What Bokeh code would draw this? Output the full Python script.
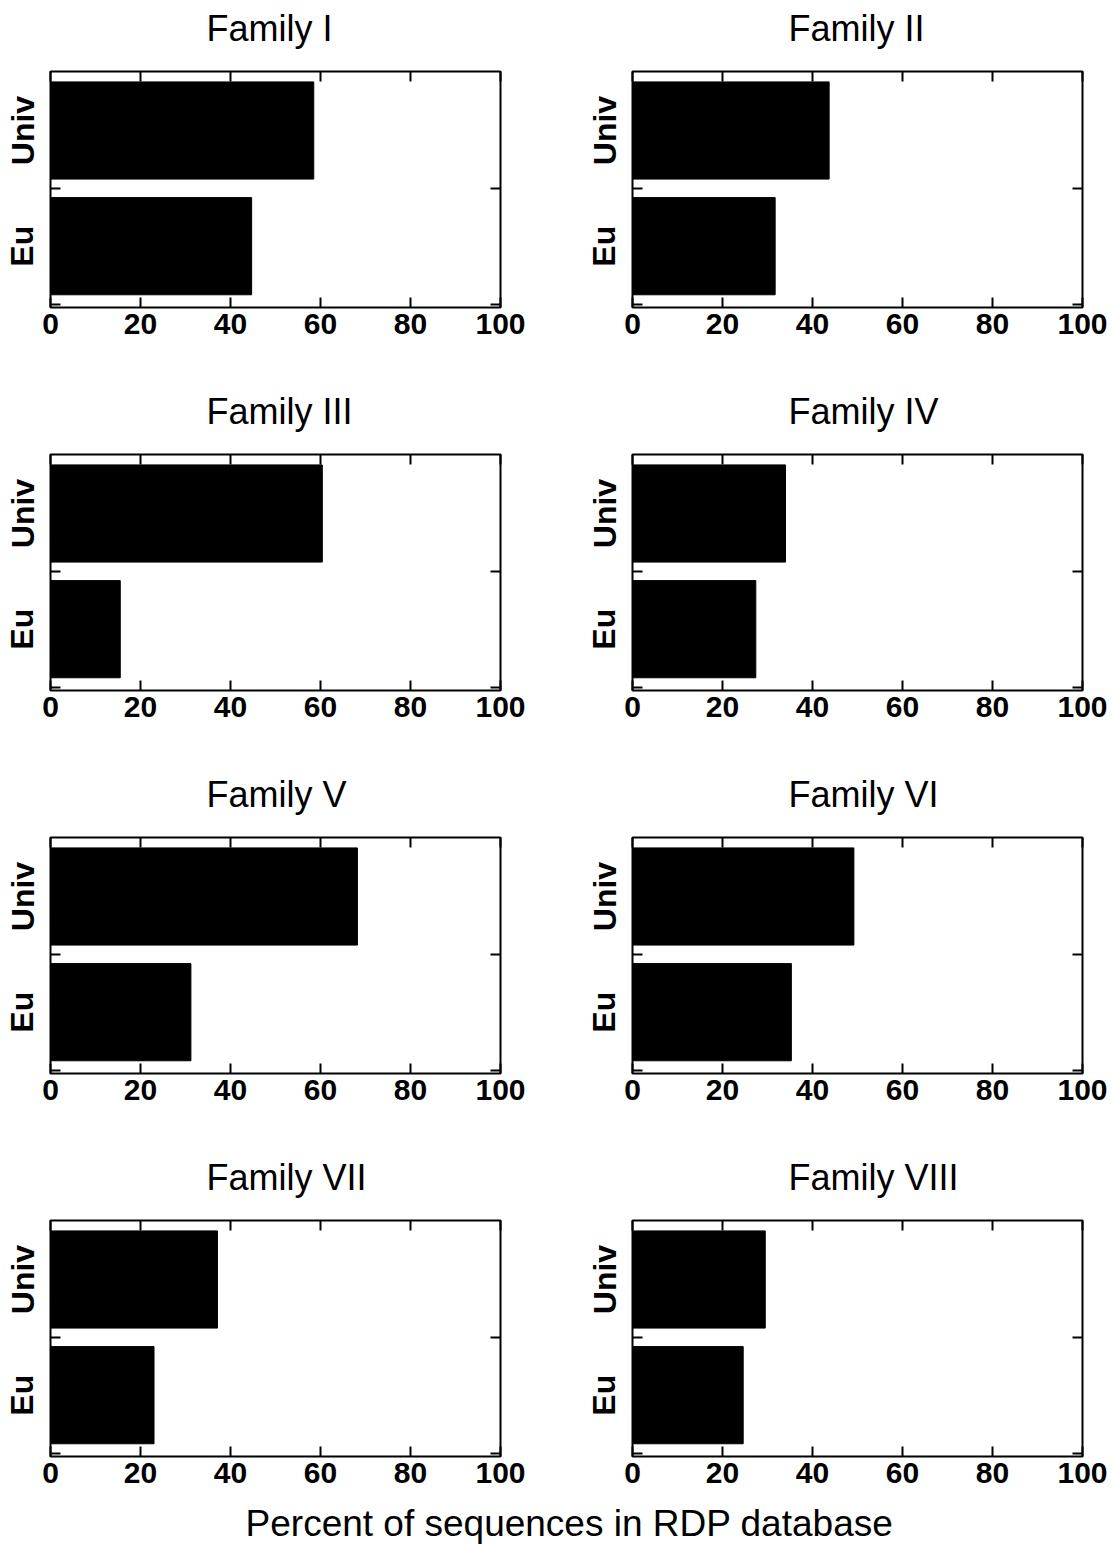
from bokeh.plotting import figure
from bokeh.models import ColumnDataSource, FixedTicker, LinearAxis, Range1d, Label
from bokeh.layouts import column, row
from bokeh.embed import file_html
from bokeh.resources import INLINE

# ---------------- data ----------------
families = ["Family I", "Family II", "Family III", "Family IV",
            "Family V", "Family VI", "Family VII", "Family VIII"]
univ = [58.5, 43.7, 60.4, 34.0, 68.2, 49.2, 37.1, 29.5]
eu = [44.7, 31.7, 15.5, 27.4, 31.2, 35.3, 23.0, 24.6]
categories = ["Eu", "Univ"]
x_ticks = [0, 20, 40, 60, 80, 100]
x_label = "Percent of sequences in RDP database"

FONT = "Liberation Sans"
FRAME_W, FRAME_H = 450, 236
ROW_H = 383
STRIP_H = 60               # title strip above each row of panels
TOP = 71 - STRIP_H         # border above each frame inside a panel figure
PAGE_W = 1112
COL_LEFT = [50, 632]       # frame left edge of each column (px)
TITLE_DX = 156             # title starts this many px right of the frame edge
TITLE_MID = 28             # title vertical middle, px below strip top


def make_panel(idx):
    left_col = idx % 2 == 0
    last_row = idx >= len(families) - 2
    centers = [i + 0.5 for i in range(len(categories))]
    bounds = [float(i) for i in range(len(categories))]
    values = [eu[idx], univ[idx]]
    src = ColumnDataSource(dict(y=centers, right=values, cat=categories))

    bottom = 40 if last_row else ROW_H - STRIP_H - TOP - FRAME_H
    lft = COL_LEFT[0] if left_col else COL_LEFT[1] - PAGE_W // 2
    p = figure(frame_width=FRAME_W, frame_height=FRAME_H,
               x_range=Range1d(0, 100), y_range=Range1d(-0.03, 2.01),
               output_backend="svg", toolbar_location=None,
               x_axis_location=None, y_axis_location=None,
               min_border_left=lft,
               min_border_right=PAGE_W // 2 - lft - FRAME_W,
               min_border_top=TOP, min_border_bottom=bottom,
               background_fill_color="white", border_fill_color="white")
    p.grid.visible = False
    p.outline_line_color = "black"
    p.outline_line_width = 2

    p.hbar(y="y", right="right", left=0, height=0.84, source=src,
           fill_color="black", line_color="black")

    # bottom axis
    xb = LinearAxis(ticker=FixedTicker(ticks=x_ticks))
    xb.axis_line_color = None
    xb.major_tick_in = 10
    xb.major_tick_out = 0
    xb.major_tick_line_width = 2
    xb.minor_tick_line_color = None
    xb.major_label_standoff = 6
    xb.major_label_text_font = FONT
    xb.major_label_text_font_style = "bold"
    xb.major_label_text_font_size = "30px"
    xb.major_label_text_color = "black"
    p.add_layout(xb, "below")
    # top axis (ticks only)
    xa = LinearAxis(ticker=FixedTicker(ticks=[], minor_ticks=x_ticks))
    xa.axis_line_color = None
    xa.major_tick_line_color = None
    xa.minor_tick_in = 10
    xa.minor_tick_out = 0
    xa.minor_tick_line_width = 2
    xa.major_label_standoff = 0
    p.add_layout(xa, "above")
    # left axis: labels at centres, ticks at boundaries
    yl = LinearAxis(ticker=FixedTicker(ticks=centers, minor_ticks=bounds))
    yl.axis_line_color = None
    yl.major_tick_line_color = None
    yl.major_tick_in = 0
    yl.major_tick_out = 0
    yl.minor_tick_in = 10
    yl.minor_tick_out = 0
    yl.minor_tick_line_width = 2
    yl.major_label_overrides = {c: n for c, n in zip(centers, categories)}
    yl.major_label_orientation = "vertical"
    yl.major_label_standoff = 10
    yl.major_label_text_font = FONT
    yl.major_label_text_font_style = "bold"
    yl.major_label_text_font_size = "32px"
    yl.major_label_text_color = "black"
    p.add_layout(yl, "left")
    # right axis (ticks only)
    yr = LinearAxis(ticker=FixedTicker(ticks=[], minor_ticks=bounds))
    yr.axis_line_color = None
    yr.major_tick_line_color = None
    yr.minor_tick_in = 10
    yr.minor_tick_out = 0
    yr.minor_tick_line_width = 2
    yr.major_label_standoff = 0
    p.add_layout(yr, "right")
    return p


def make_strip(height):
    s = figure(width=PAGE_W, height=height, x_range=Range1d(0, 1), y_range=Range1d(0, 1),
               output_backend="svg", toolbar_location=None,
               min_border=0, min_border_left=0, min_border_right=0,
               min_border_top=0, min_border_bottom=0)
    s.axis.visible = False
    s.grid.visible = False
    s.outline_line_color = None
    return s


def make_title_strip(i):
    s = make_strip(STRIP_H)
    for k in range(2):
        s.add_layout(Label(x=COL_LEFT[k] + TITLE_DX, y=STRIP_H - TITLE_MID,
                           x_units="screen", y_units="screen",
                           text=families[i + k], text_align="left",
                           text_baseline="middle", text_font=FONT,
                           text_font_size="36px", text_color="black"))
    return s


panels = [make_panel(i) for i in range(len(families))]
blocks = []
for i in range(0, len(panels), 2):
    blocks.append(make_title_strip(i))
    blocks.append(row(panels[i], panels[i + 1]))

lab = make_strip(48)
lab.add_layout(Label(x=569, y=21, x_units="screen", y_units="screen",
                     text=x_label, text_align="center", text_baseline="middle",
                     text_font=FONT, text_font_size="37px", text_color="black"))
blocks.append(lab)

layout = column(*blocks)
open("out.html", "w").write(file_html(layout, INLINE))
